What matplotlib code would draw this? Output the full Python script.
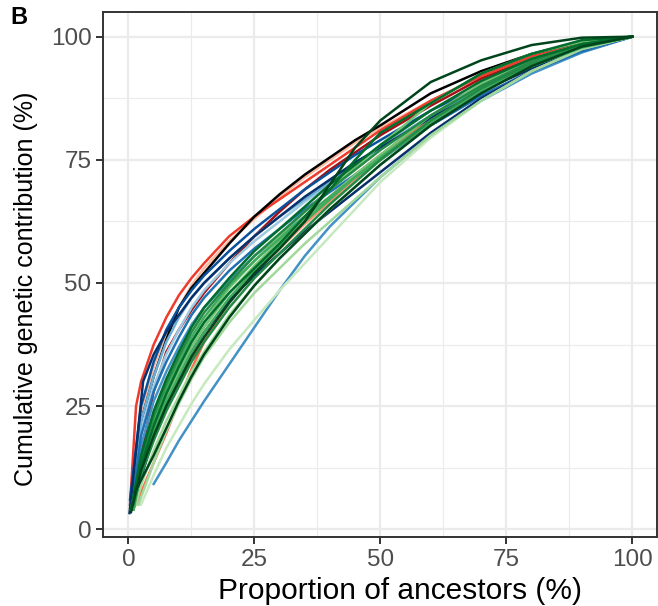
import matplotlib
matplotlib.use("Agg")
import matplotlib.pyplot as plt
from matplotlib.ticker import MultipleLocator

plt.rcParams['font.family'] = ['Liberation Sans', 'DejaVu Sans']

# proportion of ancestors (%) at which every curve is sampled after its first points
grid_x = [2.5, 5, 7.5, 10, 12.5, 15, 20, 25, 30, 35, 40, 45, 50, 60, 70, 80, 90, 100]

curve_colors = [
    "#FCBBA1", "#FC9272", "#FB6A4A", "#A50F15", "#EF3B2C",
    "#000000",
    "#9ECAE1", "#6BAED6", "#4292C6", "#4292C6", "#2171B5", "#08519C", "#08306B", "#08306B",
    "#C7E9C0", "#A1D99B", "#A1D99B", "#74C476", "#74C476", "#41AB5D", "#41AB5D",
    "#238B45", "#238B45", "#006D2C", "#006D2C", "#00441B", "#00441B",
]

# first ancestors of each curve, as (x, y)
curve_head = [
    [(0.5, 6)],
    [(1, 5)],
    [(1.5, 5)],
    [(1, 5)],
    [(0.3, 5), (1.5, 25)],
    [(0.5, 4)],
    [(0.5, 5)],
    [(0.3, 5)],
    [(0.5, 5)],
    [(5, 9.2)],
    [(0.5, 4)],
    [(0.3, 6)],
    [(0.2, 3.3), (2.9, 30)],
    [(1, 4)],
    [(2.5, 5)],
    [(2, 5)],
    [(1.5, 5)],
    [(1, 4)],
    [(0.5, 4)],
    [(1, 5)],
    [(1, 4)],
    [(0.5, 4)],
    [(1, 5)],
    [(0.5, 4)],
    [(0.5, 4)],
    [(0.5, 3.5)],
    [(1.3, 7.6)],
]

# cumulative contribution (%) at the grid_x points beyond the head
curve_y = [
    [23, 33, 40, 45, 49.5, 53, 58.5, 63, 67.5, 71.5, 75, 78.5, 81.5, 87, 92, 96, 98.8, 100],
    [12, 20, 25.5, 30, 34.5, 38.5, 46, 52, 57, 62, 66.5, 71, 75, 82.5, 89, 94, 98, 100],
    [7.5, 13.5, 19.5, 26, 32.5, 38, 46.5, 52.5, 58, 63, 67.5, 72, 76, 83.5, 89.5, 94.5, 98, 100],
    [15, 28, 36, 40.5, 44.5, 48, 54, 59.5, 64.5, 69, 73, 76.5, 80, 86, 91.5, 95.5, 98.5, 100],
    [30, 37.5, 43, 47.5, 51, 54, 59.5, 63.5, 67, 70.5, 74, 77.5, 81, 87, 92, 96, 98.8, 100],
    [22, 31, 38.5, 45, 49, 52, 58, 63.5, 68, 72, 75.5, 79, 82, 88.5, 93, 96.5, 99, 100],
    [20, 29, 35.5, 40.5, 45, 48.5, 54, 58.5, 62.5, 66.5, 70, 74, 77.5, 84, 90, 94.5, 98, 100],
    [22, 31, 38, 43, 47, 50, 55, 59.5, 63.5, 67, 70.5, 74, 77.5, 84, 89.5, 94, 97.5, 100],
    [17, 26, 32, 37, 41.5, 45, 50.5, 55.5, 59.5, 63.5, 67.5, 71.5, 75, 82, 88, 93, 97, 100],
    [13.5, 18, 22, 26, 33.5, 41, 48.5, 55.5, 61.5, 66.5, 71.5, 80, 87, 92.5, 96.8, 100],
    [19, 28, 34, 39, 43.5, 47, 52.5, 57, 61, 65, 68.5, 72, 75.5, 82, 88, 93, 97, 100],
    [25, 34, 40.5, 45, 48.5, 51.5, 56.5, 61, 65, 69, 72.5, 76, 79, 85, 90, 94.5, 98, 100],
    [35.5, 40, 43.5, 47, 50, 55, 59.5, 63.5, 67.5, 71, 74.5, 77.5, 83.5, 89, 93.5, 97.5, 100],
    [10.5, 19, 25.5, 31, 36, 40, 46.5, 51.5, 56, 60.5, 64.5, 68.5, 72.5, 80.5, 87.5, 93, 97.5, 100],
    [11, 16.5, 21, 25.5, 29.5, 36.5, 42.5, 48.5, 54, 59.5, 65, 70.5, 79.5, 87, 93, 97.5, 100],
    [6.5, 13.5, 20, 25.5, 30.5, 35, 42, 48, 53, 58, 62.5, 67, 71.5, 80, 87, 93, 97.5, 100],
    [9, 16, 22, 27, 32, 36, 43.5, 49.5, 55, 60, 65, 69.5, 74, 82, 89, 94.5, 98, 100],
    [12, 20, 26.5, 32, 37, 41, 48, 53.5, 58.5, 63, 67.5, 72, 76, 84, 90.5, 95.5, 98.5, 100],
    [13, 21, 27.5, 33, 38, 42, 49, 54.5, 59.5, 64.5, 69, 73.5, 78, 86.5, 92.5, 96.5, 99, 100],
    [13, 22, 28.5, 34, 39, 43, 49.5, 54.5, 59, 63.5, 67.5, 71.5, 75, 82.5, 89, 94, 98, 100],
    [12, 20, 26, 31, 36, 40, 47, 52.5, 57.5, 62.5, 67, 71.5, 75.5, 83, 89, 94, 97.8, 100],
    [14, 23, 29.5, 35, 40, 44, 50, 55.5, 60, 64.5, 69, 73, 77, 84, 90, 95, 98.5, 100],
    [11, 18, 24, 29, 34, 38, 45, 51, 56, 61, 66, 70.5, 75, 83, 89.5, 94.5, 98, 100],
    [15, 24, 30.5, 36, 41, 45, 51, 56.5, 61, 65.5, 70, 74, 78, 85, 91, 95.5, 98.5, 100],
    [13, 21, 27.5, 33, 38, 42, 48, 53, 58, 63.5, 69, 75, 80.5, 86.5, 92.5, 96.5, 99.3, 100],
    [12, 19, 25, 30, 35, 39, 46, 52, 57, 62.5, 70, 77.5, 83, 90.8, 95.2, 98.3, 99.8, 100],
    [10, 15, 20.5, 26, 31, 35.5, 43, 49.5, 55, 60, 65, 69.5, 74, 82, 88.5, 94, 98, 100],
]

x_ticks = [0, 25, 50, 75, 100]
y_ticks = [0, 25, 50, 75, 100]

fig = plt.figure(figsize=(6.58, 6.06), dpi=100)
ax = fig.add_axes([0.157, 0.1134, 0.8422, 0.8663])

for col, head, ys in zip(curve_colors, curve_head, curve_y):
    hx = [p[0] for p in head]
    hy = [p[1] for p in head]
    gx = [g for g in grid_x if g > hx[-1]]
    ax.plot(hx + gx, hy + ys, color=col, lw=1.8, solid_joinstyle="round")

ax.set_xlim(-5, 105)
ax.set_ylim(-1.62, 104.95)
ax.set_xticks(x_ticks)
ax.set_yticks(y_ticks)
ax.xaxis.set_minor_locator(MultipleLocator(12.5))
ax.yaxis.set_minor_locator(MultipleLocator(12.5))
ax.grid(which="major", color="#EBEBEB", lw=1.6)
ax.grid(which="minor", color="#EBEBEB", lw=0.8)
ax.set_axisbelow(True)

for sp in ax.spines.values():
    sp.set_color("#333333")
    sp.set_linewidth(1.4)

ax.tick_params(which="major", length=5, width=1.4, color="#333333",
               labelsize=17.5, labelcolor="#4D4D4D", pad=3.5)
ax.tick_params(which="minor", length=0)

ax.set_xlabel("Proportion of ancestors (%)", fontsize=21.5, color="black")
ax.xaxis.set_label_coords(0.535, -0.075)
ax.set_ylabel("Cumulative genetic contribution (%)", fontsize=18, color="black")
ax.yaxis.set_label_coords(-0.118, 0.474)

fig.text(10 / 658, 1 - 6 / 606, "B", fontsize=17, fontweight="bold", va="top", ha="left")

fig.savefig("out.png", dpi=100)
